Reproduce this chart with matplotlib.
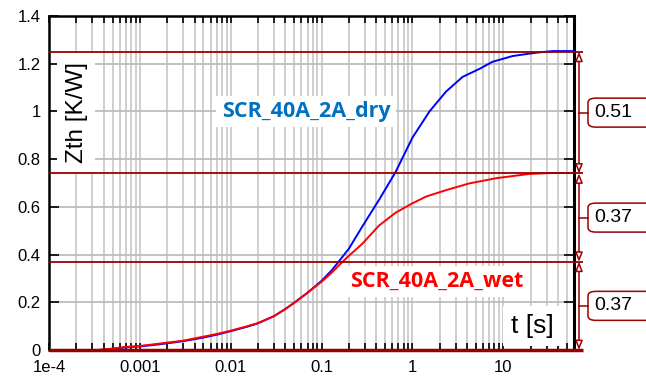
import matplotlib
matplotlib.use("Agg")
import matplotlib.pyplot as plt
from matplotlib.patches import FancyBboxPatch
from matplotlib.lines import Line2D
import numpy as np

# ---- data ----
t_dry = [3.5e-4, 5e-4, 7e-4, 1e-3, 1.5e-3, 2e-3, 3e-3, 5e-3, 7e-3, 1e-2, 1.5e-2, 2e-2, 3e-2, 4e-2,
         5e-2, 7e-2, 0.1, 0.13, 0.16, 0.2, 0.28, 0.43, 0.65, 1.0, 1.54, 2.34, 3.57, 5.44, 7.6,
         12.6, 22.7, 35, 60]
z_dry = [0.0, 0.005, 0.011, 0.015, 0.022, 0.028, 0.037, 0.052, 0.064, 0.079, 0.097, 0.112, 0.142, 0.172,
         0.198, 0.240, 0.290, 0.335, 0.378, 0.425, 0.517, 0.630, 0.745, 0.890, 1.000, 1.083, 1.145, 1.178, 1.208,
         1.232, 1.246, 1.253, 1.253]
t_wet = [3.5e-4, 5e-4, 7e-4, 1e-3, 1.5e-3, 2e-3, 3e-3, 5e-3, 7e-3, 1e-2, 1.5e-2, 2e-2, 3e-2, 4e-2,
         5e-2, 7e-2, 0.1, 0.13, 0.16, 0.2, 0.28, 0.43, 0.65, 1.0, 1.41, 2.34, 4.2, 8.3, 19.3, 35, 58]
z_wet = [0.0, 0.006, 0.013, 0.017, 0.025, 0.031, 0.039, 0.056, 0.067, 0.081, 0.099, 0.113, 0.142, 0.172,
         0.198, 0.240, 0.286, 0.325, 0.360, 0.395, 0.445, 0.522, 0.575, 0.615, 0.643, 0.670, 0.698, 0.720,
         0.738, 0.742, 0.742]
levels = [1.25, 0.74, 0.37, 0.0]
diff_labels = ["0.51", "0.37", "0.37"]
xtick_vals = [1e-4, 1e-3, 1e-2, 1e-1, 1, 10]
xtick_labels = ["1e-4", "0.001", "0.01", "0.1", "1", "10"]
ytick_vals = [0, 0.2, 0.4, 0.6, 0.8, 1.0, 1.2, 1.4]
ytick_labels = ["0", "0.2", "0.4", "0.6", "0.8", "1", "1.2", "1.4"]

plt.rcParams['font.family'] = ['Liberation Sans', 'DejaVu Sans']
W, H = 646, 381
fig = plt.figure(figsize=(W/100, H/100), dpi=100)
L, R, T, B = 49, 574, 16, 350
ax = fig.add_axes([L/W, 1 - B/H, (R-L)/W, (B-T)/H])
ax.set_xscale('log')
ax.set_xlim(1e-4, 60)
ax.set_ylim(0, 1.4)

dred = '#990000'
ax.grid(True, which='both', axis='x', color='#cccccc', lw=1.3)
ax.grid(True, which='major', axis='y', color='#bdbdbd', lw=1.3)
ax.set_axisbelow(True)

ax.plot(t_dry, z_dry, color='#0000ff', lw=1.4, zorder=3)
ax.plot(t_wet, z_wet, color='#ff0000', lw=1.4, zorder=4)

xext = (583 - L) / (R - L)
for lv in levels:
    lw = 2.5 if lv == 0 else 1.3
    ax.plot([0, xext], [lv, lv], color=dred, lw=lw, transform=ax.get_yaxis_transform(),
            clip_on=False, zorder=5, solid_capstyle='butt')

ax.set_xticks(xtick_vals)
ax.set_xticklabels(xtick_labels)
ax.set_yticks(ytick_vals)
ax.set_yticklabels(ytick_labels)
ax.tick_params(axis='both', which='both', direction='in', labelsize=12, color='black')
ax.tick_params(axis='x', which='both', top=True, bottom=True, length=5, width=1.2, pad=7)
ax.tick_params(axis='y', which='major', left=True, right=True, length=7, width=1.2, pad=6)
ax.tick_params(axis='x', which='minor', labelbottom=False)

for s in ['top', 'left']:
    ax.spines[s].set_linewidth(1.8)
ax.spines['right'].set_linewidth(2.2)
ax.spines['bottom'].set_visible(False)

# white backing for the y label, between the 1.25 and 0.74 level lines
ax.fill_between([0.015, 0.088], [0.745, 0.745], [1.245, 1.245], color='white',
                transform=ax.get_yaxis_transform(), zorder=5.5, lw=0)
ax.text(0.054, 0.74 + (1.25 - 0.74) / 2, "Zth [K/W]", rotation=90, fontsize=17.5,
        ha='center', va='center', transform=ax.get_yaxis_transform(), zorder=6)
ax.text(0.92, 0.072, "t [s]", fontsize=19, ha='center', va='center', transform=ax.transAxes,
        zorder=6, bbox=dict(boxstyle='square,pad=0.3', fc='white', ec='none'))

ax.text(0.329, 1.0, "SCR_40A_2A_dry", fontsize=15.5, fontweight='bold', color='#0070c0',
        family=['Open Sans', 'DejaVu Sans'], ha='left', va='center', transform=ax.get_yaxis_transform(),
        zorder=6, bbox=dict(boxstyle='square,pad=0.25', fc='white', ec='none'))
ax.text(0.574, 0.287, "SCR_40A_2A_wet", fontsize=15.5, fontweight='bold', color='#ff0000',
        family=['Open Sans', 'DejaVu Sans'], ha='left', va='center', transform=ax.get_yaxis_transform(),
        zorder=6, bbox=dict(boxstyle='square,pad=0.25', fc='white', ec='none'))

# dimension arrows and value boxes
xa = (579 - L) / (R - L)
def ypix(v):
    return B - v * (B - T) / 1.4
for i, lab in enumerate(diff_labels):
    hi, lo = levels[i], levels[i + 1]
    ax.annotate('', xy=(xa, hi), xytext=(xa, lo), xycoords=ax.get_yaxis_transform(),
                textcoords=ax.get_yaxis_transform(), annotation_clip=False,
                arrowprops=dict(arrowstyle='<|-|>,head_length=0.55,head_width=0.22', fc='white',
                                ec=dred, lw=1.1, shrinkA=0, shrinkB=0))
    yc = ypix((hi + lo) / 2)
    fig.add_artist(Line2D([579 / W, 588 / W], [1 - yc / H, 1 - yc / H], color=dred, lw=1.1))
    fig.add_artist(FancyBboxPatch((588 / W, 1 - (yc + 14.5) / H), 80 / W, 29 / H,
                                  boxstyle='round,pad=0,rounding_size=0.012',
                                  transform=fig.transFigure, fc='white', ec=dred, lw=1.1))
    fig.text(594 / W, 1 - yc / H, lab, fontsize=14, ha='left', va='center', color='black')

fig.savefig('out.png', dpi=100)
